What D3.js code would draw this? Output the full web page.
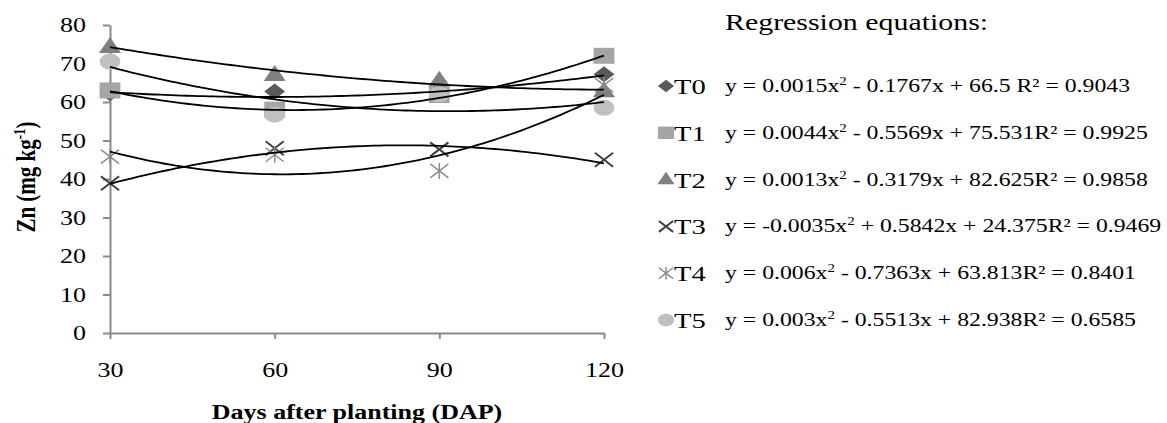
<!DOCTYPE html>
<html>
<head>
<meta charset="utf-8">
<script src="https://cdn.jsdelivr.net/npm/d3@7"></script>
<style>
  body { margin: 0; background: #fff; }
  svg { display: block; }
  text { font-family: "Liberation Serif", "Times New Roman", serif; fill: #000; }
</style>
</head>
<body>
<div id="chart"></div>
<script>
// data
const days = [30, 60, 90, 120];
const seriesNames = ["T0", "T1", "T2", "T3", "T4", "T5"];
const t0 = [62.3, 62.7, 63.0, 67.2];
const t1 = [63.0, 58.0, 61.8, 72.0];
const t2 = [74.3, 67.0, 65.5, 62.8];
const t3 = [38.9, 48.0, 47.7, 45.0];
const t4 = [45.8, 46.3, 42.1, 64.4];
const t5 = [70.5, 56.7, 62.0, 58.5];
// polynomial trendline coefficients (from the legend)
const coefA = [0.0015, 0.0044, 0.0013, -0.0035, 0.006, 0.003];
const coefB = [-0.1767, -0.5569, -0.3179, 0.5842, -0.7363, -0.5513];
const coefC = [66.5, 75.531, 82.625, 24.375, 63.813, 82.938];
const equations = [
  "y = 0.0015x^2 - 0.1767x + 66.5 R² = 0.9043",
  "y = 0.0044x^2 - 0.5569x + 75.531R² = 0.9925",
  "y = 0.0013x^2 - 0.3179x + 82.625R² = 0.9858",
  "y = -0.0035x^2 + 0.5842x + 24.375R² = 0.9469",
  "y = 0.006x^2 - 0.7363x + 63.813R² = 0.8401",
  "y = 0.003x^2 - 0.5513x + 82.938R² = 0.6585"
];
const xTicks = [30, 60, 90, 120];
const yTicks = [0, 10, 20, 30, 40, 50, 60, 70, 80];

const allSeries = [t0, t1, t2, t3, t4, t5];

const W = 1167, H = 423;
const SX = 1.3;          // the source picture is stretched sideways
const axisColor = "#898989";

// marker shapes, centred on 0,0
const shapes = [
  {d: "M0,-8L8,0L0,8L-8,0Z", fill: "#595959"},
  {d: "M-8,-8H8V8H-8Z", fill: "#a5a5a5"},
  {d: "M0,-10L8.5,6H-8.5Z", fill: "#7f7f7f"},
  {d: "M-7,-7L7,7M-7,7L7,-7", stroke: "#404040", sw: 2},
  {d: "M-7,-7L7,7M-7,7L7,-7M0,-8V8", stroke: "#8c8c8c", sw: 1.5},
  {d: "M-8,0A8,8 0 1,0 8,0A8,8 0 1,0 -8,0Z", fill: "#c0c0c0"}
];

const xScale = d3.scaleLinear().domain([30, 120]).range([110, 604]);
const yScale = d3.scaleLinear().domain([0, 80]).range([333, 25]);

const svg = d3.select("#chart").append("svg")
    .attr("width", W)
    .attr("height", H);

function drawMarker(g, shape, s) {
  g.append("path")
    .attr("d", shape.d)
    .attr("fill", shape.fill || "none")
    .attr("stroke", shape.stroke || "none")
    .attr("stroke-width", shape.sw || 0)
    .attr("vector-effect", "non-scaling-stroke")
    .attr("transform", "scale(" + (SX * s) + "," + s + ")");
}

// axes
const yAxisG = svg.append("g")
    .attr("transform", "translate(110,0)")
    .call(d3.axisLeft(yScale).tickValues(yTicks).tickSize(7).tickSizeOuter(0));
yAxisG.selectAll(".tick text")
    .attr("x", 0).attr("dy", "0.33em")
    .attr("transform", "translate(-24,0) scale(" + SX + ",1)")
    .style("font-size", "20px");

const xAxisG = svg.append("g")
    .attr("transform", "translate(0,333)")
    .call(d3.axisBottom(xScale).tickValues(xTicks).tickSize(6).tickSizeOuter(0));
xAxisG.selectAll(".tick text")
    .attr("y", 0).attr("dy", 0)
    .attr("transform", "translate(0,44) scale(" + SX + ",1)")
    .style("font-size", "20px");

[yAxisG, xAxisG].forEach(g => {
  g.attr("font-family", null).attr("font-size", null);
  g.selectAll("path, line").attr("stroke", axisColor).attr("stroke-width", 2);
});

// markers
allSeries.forEach((vals, si) => {
  svg.append("g").attr("class", "series-" + seriesNames[si])
    .selectAll(".markerG")
    .data(vals)
    .join("g")
    .attr("class", "markerG")
    .attr("transform", (v, i) => "translate(" + xScale(days[i]) + "," + yScale(v) + ")")
    .each(function() { drawMarker(d3.select(this), shapes[si], 1); });
});

// trendlines
const line = d3.line().x(d => xScale(d[0])).y(d => yScale(d[1]));
const xs = d3.range(30, 120.5, 1);
seriesNames.forEach((n, si) => {
  const pts = xs.map(t => [t, coefA[si] * t * t + coefB[si] * t + coefC[si]]);
  svg.append("path")
    .attr("d", line(pts))
    .attr("fill", "none")
    .attr("stroke", "#000")
    .attr("stroke-width", 1.8);
});

// axis titles
svg.append("text")
    .attr("transform", "translate(357,419) scale(" + SX + ",1)")
    .attr("text-anchor", "middle")
    .style("font-size", "20px")
    .style("font-weight", "bold")
    .text("Days after planting (DAP)");

const yTitle = svg.append("text")
    .attr("transform", "translate(35,177) rotate(-90) scale(1," + SX + ")")
    .attr("text-anchor", "middle")
    .style("font-size", "21px")
    .style("font-weight", "bold");
yTitle.append("tspan").text("Zn (mg kg");
yTitle.append("tspan").attr("dy", -8).style("font-size", "13px").text("-1");
yTitle.append("tspan").attr("dy", 8).text(")");

// legend
const legend = svg.append("g").attr("class", "legend");
legend.append("text")
    .attr("transform", "translate(725,30) scale(" + SX + ",1)")
    .style("font-size", "23px")
    .text("Regression equations:");

seriesNames.forEach((n, si) => {
  const cy = 86 + si * 46.8;
  const mk = legend.append("g").attr("transform", "translate(666," + cy + ")");
  drawMarker(mk, shapes[si], 0.78);
  legend.append("text")
      .attr("transform", "translate(674," + (cy + 8) + ") scale(" + SX + ",1)")
      .style("font-size", "22px")
      .text(n);
  const parts = equations[si].split("^2");
  const eq = legend.append("text")
      .attr("transform", "translate(725," + (cy + 6) + ") scale(1.25,1)")
      .style("font-size", "19px");
  eq.append("tspan").text(parts[0]);
  eq.append("tspan").attr("dy", -7).style("font-size", "12px").text("2");
  eq.append("tspan").attr("dy", 7).text(parts[1]);
});
</script>
</body>
</html>
